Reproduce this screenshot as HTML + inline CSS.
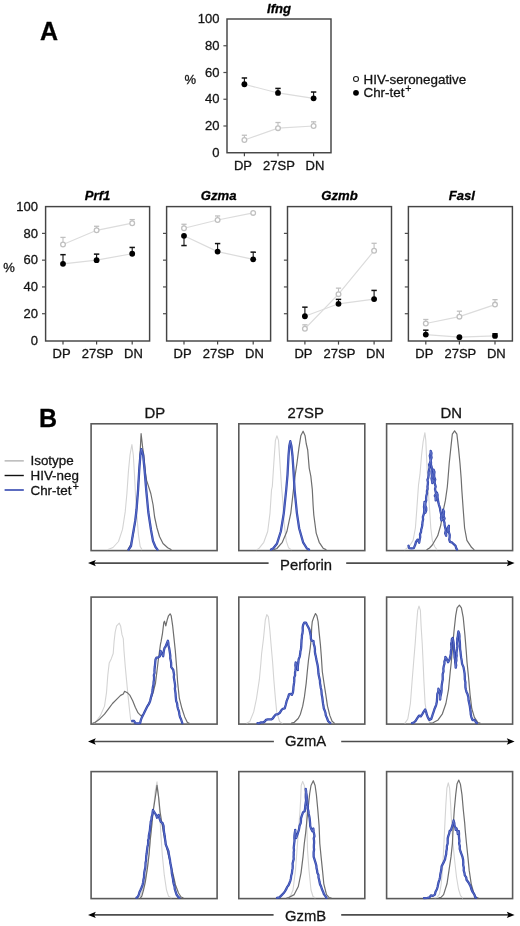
<!DOCTYPE html>
<html><head><meta charset="utf-8"><style>
html,body{margin:0;padding:0;background:#fff;}
svg{display:block;font-family:"Liberation Sans", sans-serif;will-change:transform;filter:blur(0.3px);}
</style></head><body>
<svg width="520" height="926" viewBox="0 0 520 926">
<text x="40" y="39.7" font-size="25" text-anchor="start" font-weight="bold" font-style="normal" fill="#000" stroke="#000" stroke-width="0.3" >A</text>
<rect x="227" y="19" width="104" height="133.75" fill="none" stroke="#444" stroke-width="1.45"/>
<text x="219.4" y="156.95" font-size="13.0" text-anchor="end" font-weight="normal" font-style="normal" fill="#141414" stroke="#141414" stroke-width="0.3" >0</text>
<line x1="223.4" y1="126.00" x2="227" y2="126.00" stroke="#4d4d4d" stroke-width="1.2"/>
<text x="219.4" y="130.20" font-size="13.0" text-anchor="end" font-weight="normal" font-style="normal" fill="#141414" stroke="#141414" stroke-width="0.3" >20</text>
<line x1="223.4" y1="99.25" x2="227" y2="99.25" stroke="#4d4d4d" stroke-width="1.2"/>
<text x="219.4" y="103.45" font-size="13.0" text-anchor="end" font-weight="normal" font-style="normal" fill="#141414" stroke="#141414" stroke-width="0.3" >40</text>
<line x1="223.4" y1="72.50" x2="227" y2="72.50" stroke="#4d4d4d" stroke-width="1.2"/>
<text x="219.4" y="76.70" font-size="13.0" text-anchor="end" font-weight="normal" font-style="normal" fill="#141414" stroke="#141414" stroke-width="0.3" >60</text>
<line x1="223.4" y1="45.75" x2="227" y2="45.75" stroke="#4d4d4d" stroke-width="1.2"/>
<text x="219.4" y="49.95" font-size="13.0" text-anchor="end" font-weight="normal" font-style="normal" fill="#141414" stroke="#141414" stroke-width="0.3" >80</text>
<text x="219.4" y="23.20" font-size="13.0" text-anchor="end" font-weight="normal" font-style="normal" fill="#141414" stroke="#141414" stroke-width="0.3" >100</text>
<line x1="244.40" y1="152.75" x2="244.40" y2="156.35" stroke="#444" stroke-width="1.2"/>
<text x="243.00" y="170.15" font-size="13.0" text-anchor="middle" font-weight="normal" font-style="normal" fill="#141414" stroke="#141414" stroke-width="0.3" >DP</text>
<line x1="278.00" y1="152.75" x2="278.00" y2="156.35" stroke="#444" stroke-width="1.2"/>
<text x="279.00" y="170.15" font-size="13.0" text-anchor="middle" font-weight="normal" font-style="normal" fill="#141414" stroke="#141414" stroke-width="0.3" >27SP</text>
<line x1="313.60" y1="152.75" x2="313.60" y2="156.35" stroke="#444" stroke-width="1.2"/>
<text x="314.90" y="170.15" font-size="13.0" text-anchor="middle" font-weight="normal" font-style="normal" fill="#141414" stroke="#141414" stroke-width="0.3" >DN</text>
<text x="184.6" y="84.47" font-size="13.0" text-anchor="start" font-weight="normal" font-style="normal" fill="#141414" stroke="#141414" stroke-width="0.3" >%</text>
<text x="279.00" y="12.60" font-size="13.1" text-anchor="middle" font-weight="bold" font-style="italic" fill="#000" stroke="#000" stroke-width="0.3" >Ifng</text>
<polyline points="244.40,140.04 278.00,128.14 313.60,126.00" fill="none" stroke="#dcdcdc" stroke-width="1.2"/>
<polyline points="244.40,84.27 278.00,92.96 313.60,98.31" fill="none" stroke="#dcdcdc" stroke-width="1.2"/>
<line x1="244.40" y1="140.04" x2="244.40" y2="135.23" stroke="#c0c0c0" stroke-width="1.1"/>
<line x1="241.80" y1="135.23" x2="247.00" y2="135.23" stroke="#c0c0c0" stroke-width="1.3"/>
<circle cx="244.40" cy="140.04" r="2.35" fill="#fff" stroke="#c0c0c0" stroke-width="1.3"/>
<line x1="278.00" y1="128.14" x2="278.00" y2="122.52" stroke="#c0c0c0" stroke-width="1.1"/>
<line x1="275.40" y1="122.52" x2="280.60" y2="122.52" stroke="#c0c0c0" stroke-width="1.3"/>
<circle cx="278.00" cy="128.14" r="2.35" fill="#fff" stroke="#c0c0c0" stroke-width="1.3"/>
<line x1="313.60" y1="126.00" x2="313.60" y2="121.85" stroke="#c0c0c0" stroke-width="1.1"/>
<line x1="311.00" y1="121.85" x2="316.20" y2="121.85" stroke="#c0c0c0" stroke-width="1.3"/>
<circle cx="313.60" cy="126.00" r="2.35" fill="#fff" stroke="#c0c0c0" stroke-width="1.3"/>
<line x1="244.40" y1="84.27" x2="244.40" y2="77.98" stroke="#111" stroke-width="1.1"/>
<line x1="241.70" y1="77.98" x2="247.10" y2="77.98" stroke="#111" stroke-width="1.5"/>
<circle cx="244.40" cy="84.27" r="2.9" fill="#000"/>
<line x1="278.00" y1="92.96" x2="278.00" y2="88.42" stroke="#111" stroke-width="1.1"/>
<line x1="275.30" y1="88.42" x2="280.70" y2="88.42" stroke="#111" stroke-width="1.5"/>
<circle cx="278.00" cy="92.96" r="2.9" fill="#000"/>
<line x1="313.60" y1="98.31" x2="313.60" y2="92.03" stroke="#111" stroke-width="1.1"/>
<line x1="310.90" y1="92.03" x2="316.30" y2="92.03" stroke="#111" stroke-width="1.5"/>
<circle cx="313.60" cy="98.31" r="2.9" fill="#000"/>
<circle cx="356" cy="79" r="2.5" fill="#fff" stroke="#222" stroke-width="1.1"/>
<circle cx="356" cy="92.8" r="2.9" fill="#000"/>
<text x="363.5" y="83.6" font-size="13.4" text-anchor="start" font-weight="normal" font-style="normal" fill="#141414" stroke="#141414" stroke-width="0.3" >HIV-seronegative</text>
<text x="363.5" y="97.1" font-size="13.4" text-anchor="start" font-weight="normal" font-style="normal" fill="#141414" stroke="#141414" stroke-width="0.3" >Chr-tet<tspan dx="0.8" dy="-5.2" font-size="10.5">+</tspan></text>
<rect x="45.6" y="206.6" width="104" height="134.4" fill="none" stroke="#444" stroke-width="1.45"/>
<text x="38.0" y="344.70" font-size="13.0" text-anchor="end" font-weight="normal" font-style="normal" fill="#141414" stroke="#141414" stroke-width="0.3" >0</text>
<line x1="42.0" y1="313.72" x2="45.6" y2="313.72" stroke="#4d4d4d" stroke-width="1.2"/>
<text x="38.0" y="317.92" font-size="13.0" text-anchor="end" font-weight="normal" font-style="normal" fill="#141414" stroke="#141414" stroke-width="0.3" >20</text>
<line x1="42.0" y1="286.94" x2="45.6" y2="286.94" stroke="#4d4d4d" stroke-width="1.2"/>
<text x="38.0" y="291.14" font-size="13.0" text-anchor="end" font-weight="normal" font-style="normal" fill="#141414" stroke="#141414" stroke-width="0.3" >40</text>
<line x1="42.0" y1="260.16" x2="45.6" y2="260.16" stroke="#4d4d4d" stroke-width="1.2"/>
<text x="38.0" y="264.36" font-size="13.0" text-anchor="end" font-weight="normal" font-style="normal" fill="#141414" stroke="#141414" stroke-width="0.3" >60</text>
<line x1="42.0" y1="233.38" x2="45.6" y2="233.38" stroke="#4d4d4d" stroke-width="1.2"/>
<text x="38.0" y="237.58" font-size="13.0" text-anchor="end" font-weight="normal" font-style="normal" fill="#141414" stroke="#141414" stroke-width="0.3" >80</text>
<text x="38.0" y="210.80" font-size="13.0" text-anchor="end" font-weight="normal" font-style="normal" fill="#141414" stroke="#141414" stroke-width="0.3" >100</text>
<line x1="63.00" y1="341.0" x2="63.00" y2="344.6" stroke="#444" stroke-width="1.2"/>
<text x="61.60" y="357.90" font-size="13.0" text-anchor="middle" font-weight="normal" font-style="normal" fill="#141414" stroke="#141414" stroke-width="0.3" >DP</text>
<line x1="96.60" y1="341.0" x2="96.60" y2="344.6" stroke="#444" stroke-width="1.2"/>
<text x="97.60" y="357.90" font-size="13.0" text-anchor="middle" font-weight="normal" font-style="normal" fill="#141414" stroke="#141414" stroke-width="0.3" >27SP</text>
<line x1="132.20" y1="341.0" x2="132.20" y2="344.6" stroke="#444" stroke-width="1.2"/>
<text x="133.50" y="357.90" font-size="13.0" text-anchor="middle" font-weight="normal" font-style="normal" fill="#141414" stroke="#141414" stroke-width="0.3" >DN</text>
<text x="3.200000000000003" y="272.15" font-size="13.0" text-anchor="start" font-weight="normal" font-style="normal" fill="#141414" stroke="#141414" stroke-width="0.3" >%</text>
<text x="97.60" y="200.20" font-size="13.1" text-anchor="middle" font-weight="bold" font-style="italic" fill="#000" stroke="#000" stroke-width="0.3" >Prf1</text>
<polyline points="63.00,244.49 96.60,230.30 132.20,223.20" fill="none" stroke="#dcdcdc" stroke-width="1.2"/>
<polyline points="63.00,263.78 96.60,260.16 132.20,253.73" fill="none" stroke="#dcdcdc" stroke-width="1.2"/>
<line x1="63.00" y1="244.49" x2="63.00" y2="237.40" stroke="#c0c0c0" stroke-width="1.1"/>
<line x1="60.40" y1="237.40" x2="65.60" y2="237.40" stroke="#c0c0c0" stroke-width="1.3"/>
<circle cx="63.00" cy="244.49" r="2.35" fill="#fff" stroke="#c0c0c0" stroke-width="1.3"/>
<line x1="96.60" y1="230.30" x2="96.60" y2="226.28" stroke="#c0c0c0" stroke-width="1.1"/>
<line x1="94.00" y1="226.28" x2="99.20" y2="226.28" stroke="#c0c0c0" stroke-width="1.3"/>
<circle cx="96.60" cy="230.30" r="2.35" fill="#fff" stroke="#c0c0c0" stroke-width="1.3"/>
<line x1="132.20" y1="223.20" x2="132.20" y2="219.59" stroke="#c0c0c0" stroke-width="1.1"/>
<line x1="129.60" y1="219.59" x2="134.80" y2="219.59" stroke="#c0c0c0" stroke-width="1.3"/>
<circle cx="132.20" cy="223.20" r="2.35" fill="#fff" stroke="#c0c0c0" stroke-width="1.3"/>
<line x1="63.00" y1="263.78" x2="63.00" y2="254.67" stroke="#111" stroke-width="1.1"/>
<line x1="60.30" y1="254.67" x2="65.70" y2="254.67" stroke="#111" stroke-width="1.5"/>
<circle cx="63.00" cy="263.78" r="2.9" fill="#000"/>
<line x1="96.60" y1="260.16" x2="96.60" y2="254.13" stroke="#111" stroke-width="1.1"/>
<line x1="93.90" y1="254.13" x2="99.30" y2="254.13" stroke="#111" stroke-width="1.5"/>
<circle cx="96.60" cy="260.16" r="2.9" fill="#000"/>
<line x1="132.20" y1="253.73" x2="132.20" y2="247.44" stroke="#111" stroke-width="1.1"/>
<line x1="129.50" y1="247.44" x2="134.90" y2="247.44" stroke="#111" stroke-width="1.5"/>
<circle cx="132.20" cy="253.73" r="2.9" fill="#000"/>
<rect x="166.6" y="206.6" width="104" height="134.4" fill="none" stroke="#444" stroke-width="1.45"/>
<line x1="163.0" y1="313.72" x2="166.6" y2="313.72" stroke="#4d4d4d" stroke-width="1.2"/>
<line x1="163.0" y1="286.94" x2="166.6" y2="286.94" stroke="#4d4d4d" stroke-width="1.2"/>
<line x1="163.0" y1="260.16" x2="166.6" y2="260.16" stroke="#4d4d4d" stroke-width="1.2"/>
<line x1="163.0" y1="233.38" x2="166.6" y2="233.38" stroke="#4d4d4d" stroke-width="1.2"/>
<line x1="184.00" y1="341.0" x2="184.00" y2="344.6" stroke="#444" stroke-width="1.2"/>
<text x="182.60" y="357.90" font-size="13.0" text-anchor="middle" font-weight="normal" font-style="normal" fill="#141414" stroke="#141414" stroke-width="0.3" >DP</text>
<line x1="217.60" y1="341.0" x2="217.60" y2="344.6" stroke="#444" stroke-width="1.2"/>
<text x="218.60" y="357.90" font-size="13.0" text-anchor="middle" font-weight="normal" font-style="normal" fill="#141414" stroke="#141414" stroke-width="0.3" >27SP</text>
<line x1="253.20" y1="341.0" x2="253.20" y2="344.6" stroke="#444" stroke-width="1.2"/>
<text x="254.50" y="357.90" font-size="13.0" text-anchor="middle" font-weight="normal" font-style="normal" fill="#141414" stroke="#141414" stroke-width="0.3" >DN</text>
<text x="218.60" y="200.20" font-size="13.1" text-anchor="middle" font-weight="bold" font-style="italic" fill="#000" stroke="#000" stroke-width="0.3" >Gzma</text>
<polyline points="184.00,228.29 217.60,219.99 253.20,212.89" fill="none" stroke="#dcdcdc" stroke-width="1.2"/>
<polyline points="184.00,235.79 217.60,251.59 253.20,259.36" fill="none" stroke="#dcdcdc" stroke-width="1.2"/>
<line x1="184.00" y1="228.29" x2="184.00" y2="224.27" stroke="#c0c0c0" stroke-width="1.1"/>
<line x1="181.40" y1="224.27" x2="186.60" y2="224.27" stroke="#c0c0c0" stroke-width="1.3"/>
<circle cx="184.00" cy="228.29" r="2.35" fill="#fff" stroke="#c0c0c0" stroke-width="1.3"/>
<line x1="217.60" y1="219.99" x2="217.60" y2="215.97" stroke="#c0c0c0" stroke-width="1.1"/>
<line x1="215.00" y1="215.97" x2="220.20" y2="215.97" stroke="#c0c0c0" stroke-width="1.3"/>
<circle cx="217.60" cy="219.99" r="2.35" fill="#fff" stroke="#c0c0c0" stroke-width="1.3"/>
<circle cx="253.20" cy="212.89" r="2.35" fill="#fff" stroke="#c0c0c0" stroke-width="1.3"/>
<line x1="184.00" y1="235.79" x2="184.00" y2="245.56" stroke="#111" stroke-width="1.1"/>
<line x1="181.30" y1="245.56" x2="186.70" y2="245.56" stroke="#111" stroke-width="1.5"/>
<circle cx="184.00" cy="235.79" r="2.9" fill="#000"/>
<line x1="217.60" y1="251.59" x2="217.60" y2="243.56" stroke="#111" stroke-width="1.1"/>
<line x1="214.90" y1="243.56" x2="220.30" y2="243.56" stroke="#111" stroke-width="1.5"/>
<circle cx="217.60" cy="251.59" r="2.9" fill="#000"/>
<line x1="253.20" y1="259.36" x2="253.20" y2="252.13" stroke="#111" stroke-width="1.1"/>
<line x1="250.50" y1="252.13" x2="255.90" y2="252.13" stroke="#111" stroke-width="1.5"/>
<circle cx="253.20" cy="259.36" r="2.9" fill="#000"/>
<rect x="287.5" y="206.6" width="104" height="134.4" fill="none" stroke="#444" stroke-width="1.45"/>
<line x1="283.9" y1="313.72" x2="287.5" y2="313.72" stroke="#4d4d4d" stroke-width="1.2"/>
<line x1="283.9" y1="286.94" x2="287.5" y2="286.94" stroke="#4d4d4d" stroke-width="1.2"/>
<line x1="283.9" y1="260.16" x2="287.5" y2="260.16" stroke="#4d4d4d" stroke-width="1.2"/>
<line x1="283.9" y1="233.38" x2="287.5" y2="233.38" stroke="#4d4d4d" stroke-width="1.2"/>
<line x1="304.90" y1="341.0" x2="304.90" y2="344.6" stroke="#444" stroke-width="1.2"/>
<text x="303.50" y="357.90" font-size="13.0" text-anchor="middle" font-weight="normal" font-style="normal" fill="#141414" stroke="#141414" stroke-width="0.3" >DP</text>
<line x1="338.50" y1="341.0" x2="338.50" y2="344.6" stroke="#444" stroke-width="1.2"/>
<text x="339.50" y="357.90" font-size="13.0" text-anchor="middle" font-weight="normal" font-style="normal" fill="#141414" stroke="#141414" stroke-width="0.3" >27SP</text>
<line x1="374.10" y1="341.0" x2="374.10" y2="344.6" stroke="#444" stroke-width="1.2"/>
<text x="375.40" y="357.90" font-size="13.0" text-anchor="middle" font-weight="normal" font-style="normal" fill="#141414" stroke="#141414" stroke-width="0.3" >DN</text>
<text x="339.50" y="200.20" font-size="13.1" text-anchor="middle" font-weight="bold" font-style="italic" fill="#000" stroke="#000" stroke-width="0.3" >Gzmb</text>
<polyline points="304.90,328.72 338.50,294.17 374.10,250.79" fill="none" stroke="#dcdcdc" stroke-width="1.2"/>
<polyline points="304.90,316.26 338.50,303.81 374.10,299.12" fill="none" stroke="#dcdcdc" stroke-width="1.2"/>
<line x1="304.90" y1="328.72" x2="304.90" y2="324.83" stroke="#c0c0c0" stroke-width="1.1"/>
<line x1="302.30" y1="324.83" x2="307.50" y2="324.83" stroke="#c0c0c0" stroke-width="1.3"/>
<circle cx="304.90" cy="328.72" r="2.35" fill="#fff" stroke="#c0c0c0" stroke-width="1.3"/>
<line x1="338.50" y1="294.17" x2="338.50" y2="288.15" stroke="#c0c0c0" stroke-width="1.1"/>
<line x1="335.90" y1="288.15" x2="341.10" y2="288.15" stroke="#c0c0c0" stroke-width="1.3"/>
<circle cx="338.50" cy="294.17" r="2.35" fill="#fff" stroke="#c0c0c0" stroke-width="1.3"/>
<line x1="374.10" y1="250.79" x2="374.10" y2="243.29" stroke="#c0c0c0" stroke-width="1.1"/>
<line x1="371.50" y1="243.29" x2="376.70" y2="243.29" stroke="#c0c0c0" stroke-width="1.3"/>
<circle cx="374.10" cy="250.79" r="2.35" fill="#fff" stroke="#c0c0c0" stroke-width="1.3"/>
<line x1="304.90" y1="316.26" x2="304.90" y2="307.16" stroke="#111" stroke-width="1.1"/>
<line x1="302.20" y1="307.16" x2="307.60" y2="307.16" stroke="#111" stroke-width="1.5"/>
<circle cx="304.90" cy="316.26" r="2.9" fill="#000"/>
<line x1="338.50" y1="303.81" x2="338.50" y2="299.39" stroke="#111" stroke-width="1.1"/>
<line x1="335.80" y1="299.39" x2="341.20" y2="299.39" stroke="#111" stroke-width="1.5"/>
<circle cx="338.50" cy="303.81" r="2.9" fill="#000"/>
<line x1="374.10" y1="299.12" x2="374.10" y2="290.42" stroke="#111" stroke-width="1.1"/>
<line x1="371.40" y1="290.42" x2="376.80" y2="290.42" stroke="#111" stroke-width="1.5"/>
<circle cx="374.10" cy="299.12" r="2.9" fill="#000"/>
<rect x="408.4" y="206.6" width="104" height="134.4" fill="none" stroke="#444" stroke-width="1.45"/>
<line x1="404.79999999999995" y1="313.72" x2="408.4" y2="313.72" stroke="#4d4d4d" stroke-width="1.2"/>
<line x1="404.79999999999995" y1="286.94" x2="408.4" y2="286.94" stroke="#4d4d4d" stroke-width="1.2"/>
<line x1="404.79999999999995" y1="260.16" x2="408.4" y2="260.16" stroke="#4d4d4d" stroke-width="1.2"/>
<line x1="404.79999999999995" y1="233.38" x2="408.4" y2="233.38" stroke="#4d4d4d" stroke-width="1.2"/>
<line x1="425.80" y1="341.0" x2="425.80" y2="344.6" stroke="#444" stroke-width="1.2"/>
<text x="424.40" y="357.90" font-size="13.0" text-anchor="middle" font-weight="normal" font-style="normal" fill="#141414" stroke="#141414" stroke-width="0.3" >DP</text>
<line x1="459.40" y1="341.0" x2="459.40" y2="344.6" stroke="#444" stroke-width="1.2"/>
<text x="460.40" y="357.90" font-size="13.0" text-anchor="middle" font-weight="normal" font-style="normal" fill="#141414" stroke="#141414" stroke-width="0.3" >27SP</text>
<line x1="495.00" y1="341.0" x2="495.00" y2="344.6" stroke="#444" stroke-width="1.2"/>
<text x="496.30" y="357.90" font-size="13.0" text-anchor="middle" font-weight="normal" font-style="normal" fill="#141414" stroke="#141414" stroke-width="0.3" >DN</text>
<text x="461.90" y="200.20" font-size="13.1" text-anchor="middle" font-weight="bold" font-style="italic" fill="#000" stroke="#000" stroke-width="0.3" >Fasl</text>
<polyline points="425.80,323.49 459.40,316.67 495.00,304.61" fill="none" stroke="#dcdcdc" stroke-width="1.2"/>
<polyline points="425.80,334.61 459.40,337.15 495.00,335.95" fill="none" stroke="#dcdcdc" stroke-width="1.2"/>
<line x1="425.80" y1="323.49" x2="425.80" y2="319.48" stroke="#c0c0c0" stroke-width="1.1"/>
<line x1="423.20" y1="319.48" x2="428.40" y2="319.48" stroke="#c0c0c0" stroke-width="1.3"/>
<circle cx="425.80" cy="323.49" r="2.35" fill="#fff" stroke="#c0c0c0" stroke-width="1.3"/>
<line x1="459.40" y1="316.67" x2="459.40" y2="311.18" stroke="#c0c0c0" stroke-width="1.1"/>
<line x1="456.80" y1="311.18" x2="462.00" y2="311.18" stroke="#c0c0c0" stroke-width="1.3"/>
<circle cx="459.40" cy="316.67" r="2.35" fill="#fff" stroke="#c0c0c0" stroke-width="1.3"/>
<line x1="495.00" y1="304.61" x2="495.00" y2="299.66" stroke="#c0c0c0" stroke-width="1.1"/>
<line x1="492.40" y1="299.66" x2="497.60" y2="299.66" stroke="#c0c0c0" stroke-width="1.3"/>
<circle cx="495.00" cy="304.61" r="2.35" fill="#fff" stroke="#c0c0c0" stroke-width="1.3"/>
<line x1="425.80" y1="334.61" x2="425.80" y2="330.19" stroke="#111" stroke-width="1.1"/>
<line x1="423.10" y1="330.19" x2="428.50" y2="330.19" stroke="#111" stroke-width="1.5"/>
<circle cx="425.80" cy="334.61" r="2.9" fill="#000"/>
<circle cx="459.40" cy="337.15" r="2.9" fill="#000"/>
<line x1="495.00" y1="335.95" x2="495.00" y2="333.81" stroke="#111" stroke-width="1.1"/>
<line x1="492.30" y1="333.81" x2="497.70" y2="333.81" stroke="#111" stroke-width="1.5"/>
<circle cx="495.00" cy="335.95" r="2.9" fill="#000"/>
<text x="39" y="426.7" font-size="25" text-anchor="start" font-weight="bold" font-style="normal" fill="#000" stroke="#000" stroke-width="0.3" >B</text>
<text x="154.75" y="417.5" font-size="14.9" text-anchor="middle" font-weight="normal" font-style="normal" fill="#141414" stroke="#141414" stroke-width="0.3" >DP</text>
<text x="305.65" y="417.5" font-size="14.9" text-anchor="middle" font-weight="normal" font-style="normal" fill="#141414" stroke="#141414" stroke-width="0.3" >27SP</text>
<text x="451.3" y="417.5" font-size="14.9" text-anchor="middle" font-weight="normal" font-style="normal" fill="#141414" stroke="#141414" stroke-width="0.3" >DN</text>
<line x1="4.6" y1="460.85" x2="23.8" y2="460.85" stroke="#bdbdbd" stroke-width="1.6"/>
<line x1="4.6" y1="475.5" x2="23.8" y2="475.5" stroke="#111" stroke-width="1.4"/>
<line x1="4.6" y1="490" x2="23.8" y2="490" stroke="#3347b0" stroke-width="1.6"/>
<text x="30.5" y="464.6" font-size="13.4" text-anchor="start" font-weight="normal" font-style="normal" fill="#141414" stroke="#141414" stroke-width="0.3" >Isotype</text>
<text x="30.5" y="479.7" font-size="13.4" text-anchor="start" font-weight="normal" font-style="normal" fill="#141414" stroke="#141414" stroke-width="0.3" >HIV-neg</text>
<text x="30.5" y="494.9" font-size="13.4" text-anchor="start" font-weight="normal" font-style="normal" fill="#141414" stroke="#141414" stroke-width="0.3" >Chr-tet<tspan dx="1.2" dy="-5" font-size="10.5">+</tspan></text>
<rect x="91.1" y="423.8" width="126" height="126.8" fill="none" stroke="#5a5a5a" stroke-width="1.6"/>
<rect x="238.8" y="423.8" width="126" height="126.8" fill="none" stroke="#5a5a5a" stroke-width="1.6"/>
<rect x="386.6" y="423.8" width="126" height="126.8" fill="none" stroke="#5a5a5a" stroke-width="1.6"/>
<rect x="91.1" y="597.1" width="126" height="127.0" fill="none" stroke="#5a5a5a" stroke-width="1.6"/>
<rect x="238.8" y="597.1" width="126" height="127.0" fill="none" stroke="#5a5a5a" stroke-width="1.6"/>
<rect x="386.6" y="597.1" width="126" height="127.0" fill="none" stroke="#5a5a5a" stroke-width="1.6"/>
<rect x="91.1" y="771.6" width="126" height="127.0" fill="none" stroke="#5a5a5a" stroke-width="1.6"/>
<rect x="238.8" y="771.6" width="126" height="127.0" fill="none" stroke="#5a5a5a" stroke-width="1.6"/>
<rect x="386.6" y="771.6" width="126" height="127.0" fill="none" stroke="#5a5a5a" stroke-width="1.6"/>
<line x1="92" y1="563.1" x2="268.6" y2="563.1" stroke="#4d4d4d" stroke-width="1.6"/>
<line x1="346.2" y1="563.1" x2="510" y2="563.1" stroke="#4d4d4d" stroke-width="1.6"/>
<path d="M88 563.1 L95.8 559.9 L94.2 563.1 L95.8 566.3000000000001 Z" fill="#000"/>
<path d="M514.6 563.1 L506.8 559.9 L508.4 563.1 L506.8 566.3000000000001 Z" fill="#000"/>
<text x="306" y="569.6" font-size="14.8" text-anchor="middle" font-weight="normal" font-style="normal" fill="#141414" stroke="#141414" stroke-width="0.3" >Perforin</text>
<line x1="92" y1="741.5" x2="273.9" y2="741.5" stroke="#4d4d4d" stroke-width="1.6"/>
<line x1="341.2" y1="741.5" x2="510" y2="741.5" stroke="#4d4d4d" stroke-width="1.6"/>
<path d="M88 741.5 L95.8 738.3 L94.2 741.5 L95.8 744.7 Z" fill="#000"/>
<path d="M514.6 741.5 L506.8 738.3 L508.4 741.5 L506.8 744.7 Z" fill="#000"/>
<text x="305.6" y="746.2" font-size="14.8" text-anchor="middle" font-weight="normal" font-style="normal" fill="#141414" stroke="#141414" stroke-width="0.3" >GzmA</text>
<line x1="92" y1="914.9" x2="273.6" y2="914.9" stroke="#4d4d4d" stroke-width="1.6"/>
<line x1="341.2" y1="914.9" x2="510" y2="914.9" stroke="#4d4d4d" stroke-width="1.6"/>
<path d="M88 914.9 L95.8 911.6999999999999 L94.2 914.9 L95.8 918.1 Z" fill="#000"/>
<path d="M514.6 914.9 L506.8 911.6999999999999 L508.4 914.9 L506.8 918.1 Z" fill="#000"/>
<text x="305.6" y="920.8" font-size="14.8" text-anchor="middle" font-weight="normal" font-style="normal" fill="#141414" stroke="#141414" stroke-width="0.3" >GzmB</text>
<path d="M108.00,549.60 L113.00,547.50 L118.50,541.50 L122.50,529.40 L125.20,511.90 L126.90,493.50 L128.50,470.40 L130.00,455.00 L131.90,444.50 L133.30,455.00 L134.50,475.00 L135.50,495.00 L136.80,515.00 L138.50,535.00 L140.20,546.50 L142.00,549.60" fill="none" stroke="#d4d4d4" stroke-width="1.1" stroke-linejoin="round" stroke-linecap="round" opacity="1"/>
<path d="M128.00,549.60 L131.00,544.00 L133.50,533.00 L136.00,516.00 L137.80,492.00 L139.30,468.00 L140.40,447.00 L141.10,433.70 L142.70,447.90 L143.80,455.00 L145.40,472.10 L146.60,480.40 L150.80,493.50 L153.10,505.00 L154.60,517.00 L157.00,528.00 L159.50,536.50 L163.00,543.50 L167.70,547.70 L171.00,549.60" fill="none" stroke="#6e6e6e" stroke-width="1.2" stroke-linejoin="round" stroke-linecap="round" opacity="1"/>
<path d="M128.60,549.60 L131.00,546.00 L133.00,533.80 L135.20,521.00 L136.50,510.00 L138.10,489.60 L139.20,470.40 L140.40,455.00 L141.30,449.20 L143.10,455.00 L144.60,470.40 L146.20,489.60 L148.30,512.00 L149.50,520.00 L151.00,530.00 L153.00,541.00 L155.50,547.00 L157.50,549.60" fill="none" stroke="#3045ad" stroke-width="2.3" stroke-linejoin="round" stroke-linecap="round" opacity="1"/>
<path d="M128.60,549.60 L131.00,546.00 L133.00,533.80 L135.20,521.00 L136.50,510.00 L138.10,489.60 L139.20,470.40 L140.40,455.00 L141.30,449.20 L143.10,455.00 L144.60,470.40 L146.20,489.60 L148.30,512.00 L149.50,520.00 L151.00,530.00 L153.00,541.00 L155.50,547.00 L157.50,549.60" fill="none" stroke="#8e9ee0" stroke-width="0.55" stroke-linejoin="round" stroke-linecap="round" opacity="0.8"/>
<path d="M257.00,549.60 L259.20,548.20 L263.80,542.30 L267.70,531.50 L270.00,513.10 L271.50,490.00 L272.30,486.50 L273.80,463.50 L275.40,440.40 L276.90,435.80 L278.50,440.40 L280.00,463.50 L281.50,486.50 L283.10,505.00 L284.00,522.00 L286.20,540.80 L288.50,547.70 L291.00,549.60" fill="none" stroke="#d4d4d4" stroke-width="1.1" stroke-linejoin="round" stroke-linecap="round" opacity="1"/>
<path d="M274.00,549.60 L276.90,548.50 L282.30,542.30 L286.90,531.50 L290.80,513.10 L293.20,492.00 L295.20,475.00 L296.90,463.50 L298.90,448.10 L300.80,435.80 L303.10,431.20 L305.10,435.80 L306.20,443.50 L307.70,450.00 L309.20,468.10 L310.80,476.00 L312.30,489.60 L313.10,505.00 L313.80,515.00 L316.20,533.10 L319.20,542.30 L323.10,548.20 L326.00,549.60" fill="none" stroke="#6e6e6e" stroke-width="1.2" stroke-linejoin="round" stroke-linecap="round" opacity="1"/>
<path d="M271.00,549.60 L273.10,548.50 L276.90,543.80 L280.80,531.50 L283.80,513.10 L286.20,490.00 L287.50,475.00 L288.50,456.00 L289.30,446.00 L290.30,441.20 L291.40,446.00 L292.50,456.00 L293.50,471.20 L294.60,490.00 L296.90,513.10 L299.20,528.50 L303.10,542.30 L306.90,548.50 L309.00,549.60" fill="none" stroke="#3045ad" stroke-width="2.3" stroke-linejoin="round" stroke-linecap="round" opacity="1"/>
<path d="M271.00,549.60 L273.10,548.50 L276.90,543.80 L280.80,531.50 L283.80,513.10 L286.20,490.00 L287.50,475.00 L288.50,456.00 L289.30,446.00 L290.30,441.20 L291.40,446.00 L292.50,456.00 L293.50,471.20 L294.60,490.00 L296.90,513.10 L299.20,528.50 L303.10,542.30 L306.90,548.50 L309.00,549.60" fill="none" stroke="#8e9ee0" stroke-width="0.55" stroke-linejoin="round" stroke-linecap="round" opacity="0.8"/>
<path d="M405.00,549.60 L409.20,546.50 L413.10,540.40 L415.40,528.00 L416.90,508.00 L418.50,485.00 L420.00,474.20 L421.50,455.80 L423.10,441.90 L424.90,432.70 L425.80,440.40 L426.50,455.80 L427.40,474.20 L428.20,489.00 L429.50,508.00 L430.80,528.00 L432.30,540.40 L434.60,546.50 L437.00,549.60" fill="none" stroke="#d4d4d4" stroke-width="1.1" stroke-linejoin="round" stroke-linecap="round" opacity="1"/>
<path d="M427.00,549.60 L429.50,548.00 L432.30,545.00 L437.70,535.80 L440.80,525.00 L443.10,511.20 L445.40,500.40 L447.30,487.00 L448.00,478.80 L449.20,463.50 L450.80,448.10 L452.30,434.20 L454.60,430.80 L456.90,434.20 L458.50,448.10 L460.00,463.50 L461.20,478.80 L461.80,489.60 L463.10,508.00 L464.60,528.00 L466.90,540.40 L471.50,547.30 L474.00,549.60" fill="none" stroke="#6e6e6e" stroke-width="1.2" stroke-linejoin="round" stroke-linecap="round" opacity="1"/>
<path d="M408.50,545.80 L409.20,548.10 L411.50,548.35 L413.80,548.10 L415.40,544.20 L416.04,541.64 L417.70,539.60 L419.20,542.70 L419.63,539.88 L420.21,537.08 L420.00,534.20 L421.03,532.01 L421.17,529.61 L421.90,527.34 L422.30,525.00 L422.49,522.27 L423.09,519.61 L422.88,516.82 L423.80,514.20 L424.22,511.76 L424.26,509.29 L423.98,506.80 L424.27,504.35 L424.60,501.90 L424.47,504.62 L425.08,507.29 L424.56,510.05 L425.40,512.70 L426.22,510.28 L426.19,507.81 L425.31,505.28 L425.45,502.82 L426.20,500.40 L426.08,498.03 L426.36,495.69 L427.01,493.37 L426.90,491.00 L427.59,488.83 L427.45,486.58 L427.79,484.37 L427.94,482.14 L427.42,479.85 L428.30,477.70 L428.66,475.00 L428.55,472.25 L429.16,469.59 L429.60,466.90 L429.06,464.63 L430.12,462.46 L430.62,460.26 L430.20,458.00 L429.76,455.56 L430.65,453.21 L430.70,450.80 L431.49,453.06 L431.16,455.39 L431.56,457.67 L430.71,460.03 L431.02,462.32 L430.92,464.63 L431.60,466.90 L432.09,469.20 L431.49,471.54 L431.62,473.85 L431.99,476.16 L431.52,478.50 L432.03,480.79 L432.30,483.10 L432.21,480.82 L433.04,478.63 L432.92,476.35 L432.77,474.06 L433.55,471.87 L433.60,469.60 L434.46,472.01 L434.14,474.53 L434.22,477.01 L435.23,479.40 L434.56,481.95 L435.00,484.40 L435.68,486.66 L434.99,488.98 L435.52,491.25 L436.06,493.51 L434.80,495.86 L436.21,498.09 L435.70,500.40 L435.62,497.76 L436.51,495.27 L436.90,492.70 L437.58,494.95 L437.51,497.31 L437.91,499.59 L438.20,501.90 L439.00,505.03 L440.00,508.10 L440.24,510.57 L440.89,512.99 L441.30,515.43 L440.93,517.97 L441.50,520.40 L441.80,517.69 L442.33,515.00 L443.28,512.39 L443.10,509.60 L444.00,511.73 L443.84,513.97 L443.65,516.21 L444.58,518.34 L443.82,520.63 L444.52,522.79 L444.60,525.00 L445.25,527.66 L445.82,530.34 L445.15,533.20 L446.20,535.80 L446.08,533.11 L447.64,530.75 L447.70,528.10 L448.90,525.80 L448.77,528.12 L448.66,530.44 L449.09,532.72 L449.74,534.99 L449.62,537.30 L449.25,539.64 L450.00,541.90 L452.30,542.70 L453.80,544.20 L455.55,545.81 L456.20,548.10 L457.00,549.60" fill="none" stroke="#3045ad" stroke-width="2.3" stroke-linejoin="round" stroke-linecap="round" opacity="1"/>
<path d="M408.50,545.80 L409.20,548.10 L411.50,548.35 L413.80,548.10 L415.40,544.20 L416.04,541.64 L417.70,539.60 L419.20,542.70 L419.63,539.88 L420.21,537.08 L420.00,534.20 L421.03,532.01 L421.17,529.61 L421.90,527.34 L422.30,525.00 L422.49,522.27 L423.09,519.61 L422.88,516.82 L423.80,514.20 L424.22,511.76 L424.26,509.29 L423.98,506.80 L424.27,504.35 L424.60,501.90 L424.47,504.62 L425.08,507.29 L424.56,510.05 L425.40,512.70 L426.22,510.28 L426.19,507.81 L425.31,505.28 L425.45,502.82 L426.20,500.40 L426.08,498.03 L426.36,495.69 L427.01,493.37 L426.90,491.00 L427.59,488.83 L427.45,486.58 L427.79,484.37 L427.94,482.14 L427.42,479.85 L428.30,477.70 L428.66,475.00 L428.55,472.25 L429.16,469.59 L429.60,466.90 L429.06,464.63 L430.12,462.46 L430.62,460.26 L430.20,458.00 L429.76,455.56 L430.65,453.21 L430.70,450.80 L431.49,453.06 L431.16,455.39 L431.56,457.67 L430.71,460.03 L431.02,462.32 L430.92,464.63 L431.60,466.90 L432.09,469.20 L431.49,471.54 L431.62,473.85 L431.99,476.16 L431.52,478.50 L432.03,480.79 L432.30,483.10 L432.21,480.82 L433.04,478.63 L432.92,476.35 L432.77,474.06 L433.55,471.87 L433.60,469.60 L434.46,472.01 L434.14,474.53 L434.22,477.01 L435.23,479.40 L434.56,481.95 L435.00,484.40 L435.68,486.66 L434.99,488.98 L435.52,491.25 L436.06,493.51 L434.80,495.86 L436.21,498.09 L435.70,500.40 L435.62,497.76 L436.51,495.27 L436.90,492.70 L437.58,494.95 L437.51,497.31 L437.91,499.59 L438.20,501.90 L439.00,505.03 L440.00,508.10 L440.24,510.57 L440.89,512.99 L441.30,515.43 L440.93,517.97 L441.50,520.40 L441.80,517.69 L442.33,515.00 L443.28,512.39 L443.10,509.60 L444.00,511.73 L443.84,513.97 L443.65,516.21 L444.58,518.34 L443.82,520.63 L444.52,522.79 L444.60,525.00 L445.25,527.66 L445.82,530.34 L445.15,533.20 L446.20,535.80 L446.08,533.11 L447.64,530.75 L447.70,528.10 L448.90,525.80 L448.77,528.12 L448.66,530.44 L449.09,532.72 L449.74,534.99 L449.62,537.30 L449.25,539.64 L450.00,541.90 L452.30,542.70 L453.80,544.20 L455.55,545.81 L456.20,548.10 L457.00,549.60" fill="none" stroke="#8e9ee0" stroke-width="0.55" stroke-linejoin="round" stroke-linecap="round" opacity="0.8"/>
<path d="M94.00,723.10 L96.40,721.00 L100.40,715.60 L104.50,706.10 L106.50,692.70 L107.80,675.20 L109.20,663.10 L111.20,658.90 L113.20,653.50 L114.10,641.40 L115.20,632.00 L116.60,625.90 L119.30,623.20 L120.60,625.90 L122.00,634.70 L123.30,638.70 L124.00,650.80 L125.30,667.00 L126.70,681.90 L128.00,695.40 L129.40,708.80 L130.70,719.60 L132.00,723.10" fill="none" stroke="#d4d4d4" stroke-width="1.1" stroke-linejoin="round" stroke-linecap="round" opacity="1"/>
<path d="M93.00,723.10 L95.00,722.50 L99.10,719.60 L104.50,714.20 L108.50,708.80 L112.50,703.50 L116.60,699.40 L120.60,695.40 L123.30,694.00 L124.60,691.30 L127.30,692.70 L130.00,695.40 L132.70,700.80 L135.40,707.50 L138.10,712.90 L140.80,715.60 L142.80,715.20 L146.00,709.00 L150.00,701.00 L153.00,693.00 L155.50,683.00 L157.10,670.00 L158.30,660.00 L160.50,644.10 L161.10,641.40 L162.50,633.30 L163.80,622.60 L164.50,621.20 L165.80,625.90 L167.20,619.90 L168.50,615.80 L170.10,613.80 L171.20,615.80 L172.60,625.30 L173.90,637.40 L175.30,650.80 L176.60,667.00 L177.60,682.00 L179.30,698.10 L182.00,708.80 L184.70,716.90 L187.40,722.50 L189.00,723.10" fill="none" stroke="#6e6e6e" stroke-width="1.2" stroke-linejoin="round" stroke-linecap="round" opacity="1"/>
<path d="M132.20,721.00 L134.10,721.00 L135.40,723.10 L137.75,723.35 L140.10,723.10 L140.89,719.93 L142.10,716.90 L143.48,714.22 L144.80,711.50 L146.14,708.80 L147.50,706.10 L149.10,703.58 L150.20,700.80 L150.80,698.08 L151.50,695.39 L152.20,692.70 L152.60,690.01 L152.83,687.29 L153.50,684.63 L153.60,681.90 L153.99,679.68 L154.07,677.44 L153.83,675.18 L154.56,672.99 L154.46,670.74 L154.60,668.50 L154.88,666.26 L155.08,664.00 L155.28,661.75 L155.50,659.50 L156.40,657.70 L157.80,657.60 L159.80,656.20 L160.41,653.53 L160.50,650.80 L161.80,653.50 L163.20,656.20 L163.50,653.48 L163.85,650.77 L164.50,648.10 L165.77,646.23 L166.50,644.10 L167.90,640.70 L168.34,643.08 L168.50,645.50 L169.18,648.12 L169.60,650.80 L169.99,653.40 L170.30,656.00 L170.24,658.24 L170.73,660.43 L171.13,662.64 L171.16,664.87 L171.20,667.10 L173.20,669.80 L173.64,672.20 L174.05,674.61 L173.81,677.09 L174.18,679.50 L174.60,681.90 L175.00,684.20 L175.13,686.52 L174.87,688.87 L175.22,691.17 L175.56,693.47 L175.67,695.79 L175.90,698.10 L176.14,700.83 L177.10,703.42 L177.40,706.14 L178.00,708.80 L178.95,711.43 L179.34,714.20 L180.00,716.90 L180.92,718.91 L181.62,721.00 L182.30,723.10" fill="none" stroke="#3045ad" stroke-width="2.3" stroke-linejoin="round" stroke-linecap="round" opacity="1"/>
<path d="M132.20,721.00 L134.10,721.00 L135.40,723.10 L137.75,723.35 L140.10,723.10 L140.89,719.93 L142.10,716.90 L143.48,714.22 L144.80,711.50 L146.14,708.80 L147.50,706.10 L149.10,703.58 L150.20,700.80 L150.80,698.08 L151.50,695.39 L152.20,692.70 L152.60,690.01 L152.83,687.29 L153.50,684.63 L153.60,681.90 L153.99,679.68 L154.07,677.44 L153.83,675.18 L154.56,672.99 L154.46,670.74 L154.60,668.50 L154.88,666.26 L155.08,664.00 L155.28,661.75 L155.50,659.50 L156.40,657.70 L157.80,657.60 L159.80,656.20 L160.41,653.53 L160.50,650.80 L161.80,653.50 L163.20,656.20 L163.50,653.48 L163.85,650.77 L164.50,648.10 L165.77,646.23 L166.50,644.10 L167.90,640.70 L168.34,643.08 L168.50,645.50 L169.18,648.12 L169.60,650.80 L169.99,653.40 L170.30,656.00 L170.24,658.24 L170.73,660.43 L171.13,662.64 L171.16,664.87 L171.20,667.10 L173.20,669.80 L173.64,672.20 L174.05,674.61 L173.81,677.09 L174.18,679.50 L174.60,681.90 L175.00,684.20 L175.13,686.52 L174.87,688.87 L175.22,691.17 L175.56,693.47 L175.67,695.79 L175.90,698.10 L176.14,700.83 L177.10,703.42 L177.40,706.14 L178.00,708.80 L178.95,711.43 L179.34,714.20 L180.00,716.90 L180.92,718.91 L181.62,721.00 L182.30,723.10" fill="none" stroke="#8e9ee0" stroke-width="0.55" stroke-linejoin="round" stroke-linecap="round" opacity="0.8"/>
<path d="M247.00,723.10 L249.80,721.50 L253.70,711.90 L256.50,698.50 L259.40,679.20 L260.80,664.00 L261.60,653.80 L263.50,638.50 L265.30,620.00 L266.80,614.60 L268.40,616.90 L269.90,630.80 L271.20,646.20 L272.60,662.00 L273.80,679.20 L275.40,698.50 L276.70,711.90 L279.60,721.50 L282.00,723.10" fill="none" stroke="#d4d4d4" stroke-width="1.1" stroke-linejoin="round" stroke-linecap="round" opacity="1"/>
<path d="M291.50,723.10 L294.30,722.30 L298.20,718.50 L300.40,714.20 L302.70,706.20 L304.40,696.90 L306.20,683.10 L307.30,671.50 L308.50,660.00 L310.20,648.10 L311.20,638.80 L311.70,627.30 L312.30,621.50 L313.50,618.10 L315.50,613.50 L316.90,615.80 L318.10,621.50 L319.20,633.10 L320.40,644.60 L321.30,656.00 L322.30,671.50 L324.00,683.10 L325.80,694.60 L327.50,706.20 L329.80,715.40 L332.10,721.20 L334.40,723.10" fill="none" stroke="#6e6e6e" stroke-width="1.2" stroke-linejoin="round" stroke-linecap="round" opacity="1"/>
<path d="M257.50,723.10 L259.20,723.30 L261.10,722.30 L263.50,722.30 L265.00,721.30 L265.90,719.90 L267.90,719.40 L271.20,719.40 L272.70,718.50 L274.10,716.50 L275.60,714.60 L278.00,714.10 L279.90,712.70 L281.30,710.30 L282.80,708.80 L284.70,708.40 L285.70,705.00 L286.60,701.20 L288.10,697.30 L289.00,694.40 L290.50,693.90 L291.90,694.90 L292.90,692.50 L293.30,689.60 L293.43,687.19 L293.80,684.80 L294.13,682.41 L294.30,680.00 L294.19,677.63 L295.10,675.37 L295.00,673.00 L295.40,670.39 L295.70,667.77 L295.36,665.11 L295.70,662.50 L296.50,664.00 L297.40,666.95 L297.90,670.00 L297.76,667.31 L298.02,664.65 L298.40,662.00 L298.67,659.20 L299.73,656.56 L300.20,653.80 L300.38,651.49 L300.97,649.23 L301.21,646.92 L301.30,644.60 L301.44,642.29 L301.55,639.98 L301.91,637.69 L301.93,635.37 L302.50,633.10 L302.80,630.41 L302.68,627.68 L303.10,625.00 L304.20,622.70 L306.00,622.70 L307.10,625.00 L308.30,627.30 L309.40,629.60 L310.20,633.10 L310.79,635.92 L310.90,638.80 L311.70,640.60 L313.50,641.20 L313.78,644.10 L314.60,646.90 L314.94,649.22 L314.89,651.59 L315.17,653.92 L315.80,656.20 L316.24,659.07 L316.90,661.90 L317.42,664.27 L317.84,666.66 L318.13,669.07 L318.30,671.50 L318.48,673.84 L318.97,676.14 L319.46,678.44 L319.99,680.73 L320.00,683.10 L320.44,685.38 L320.75,687.69 L321.32,689.96 L321.53,692.27 L321.70,694.60 L322.20,696.90 L322.48,699.23 L322.78,701.56 L323.09,703.89 L323.50,706.20 L323.84,708.56 L324.79,710.77 L325.50,713.03 L325.80,715.40 L327.08,718.25 L328.10,721.20 L330.40,723.10" fill="none" stroke="#3045ad" stroke-width="2.3" stroke-linejoin="round" stroke-linecap="round" opacity="1"/>
<path d="M257.50,723.10 L259.20,723.30 L261.10,722.30 L263.50,722.30 L265.00,721.30 L265.90,719.90 L267.90,719.40 L271.20,719.40 L272.70,718.50 L274.10,716.50 L275.60,714.60 L278.00,714.10 L279.90,712.70 L281.30,710.30 L282.80,708.80 L284.70,708.40 L285.70,705.00 L286.60,701.20 L288.10,697.30 L289.00,694.40 L290.50,693.90 L291.90,694.90 L292.90,692.50 L293.30,689.60 L293.43,687.19 L293.80,684.80 L294.13,682.41 L294.30,680.00 L294.19,677.63 L295.10,675.37 L295.00,673.00 L295.40,670.39 L295.70,667.77 L295.36,665.11 L295.70,662.50 L296.50,664.00 L297.40,666.95 L297.90,670.00 L297.76,667.31 L298.02,664.65 L298.40,662.00 L298.67,659.20 L299.73,656.56 L300.20,653.80 L300.38,651.49 L300.97,649.23 L301.21,646.92 L301.30,644.60 L301.44,642.29 L301.55,639.98 L301.91,637.69 L301.93,635.37 L302.50,633.10 L302.80,630.41 L302.68,627.68 L303.10,625.00 L304.20,622.70 L306.00,622.70 L307.10,625.00 L308.30,627.30 L309.40,629.60 L310.20,633.10 L310.79,635.92 L310.90,638.80 L311.70,640.60 L313.50,641.20 L313.78,644.10 L314.60,646.90 L314.94,649.22 L314.89,651.59 L315.17,653.92 L315.80,656.20 L316.24,659.07 L316.90,661.90 L317.42,664.27 L317.84,666.66 L318.13,669.07 L318.30,671.50 L318.48,673.84 L318.97,676.14 L319.46,678.44 L319.99,680.73 L320.00,683.10 L320.44,685.38 L320.75,687.69 L321.32,689.96 L321.53,692.27 L321.70,694.60 L322.20,696.90 L322.48,699.23 L322.78,701.56 L323.09,703.89 L323.50,706.20 L323.84,708.56 L324.79,710.77 L325.50,713.03 L325.80,715.40 L327.08,718.25 L328.10,721.20 L330.40,723.10" fill="none" stroke="#8e9ee0" stroke-width="0.55" stroke-linejoin="round" stroke-linecap="round" opacity="0.8"/>
<path d="M405.00,723.10 L407.80,719.00 L410.40,703.50 L412.10,681.00 L413.80,660.00 L415.20,643.30 L416.40,626.00 L417.70,610.40 L419.00,606.10 L420.40,610.40 L421.10,626.00 L422.20,643.30 L423.00,660.00 L423.90,681.00 L425.10,703.50 L427.70,719.00 L430.00,723.10" fill="none" stroke="#d4d4d4" stroke-width="1.1" stroke-linejoin="round" stroke-linecap="round" opacity="1"/>
<path d="M430.00,723.10 L432.90,722.80 L438.10,719.90 L442.40,713.80 L445.90,703.50 L448.50,689.60 L450.20,672.30 L451.30,662.00 L452.40,648.50 L454.00,631.20 L455.70,615.60 L457.10,607.80 L459.40,605.20 L461.40,607.80 L463.20,617.30 L464.90,634.60 L466.30,651.90 L467.00,662.00 L468.40,675.80 L470.10,694.80 L471.80,708.70 L474.40,717.30 L477.90,722.50 L480.00,723.10" fill="none" stroke="#6e6e6e" stroke-width="1.2" stroke-linejoin="round" stroke-linecap="round" opacity="1"/>
<path d="M412.00,723.10 L413.80,722.50 L415.60,720.80 L417.30,718.20 L419.00,715.60 L420.80,716.40 L422.50,713.80 L423.74,711.61 L425.10,709.50 L426.16,712.03 L426.80,714.70 L427.85,717.43 L429.40,719.90 L431.20,719.00 L432.13,716.43 L432.90,713.80 L433.77,711.26 L434.60,708.70 L435.58,706.55 L436.30,704.30 L436.85,701.73 L437.03,699.11 L437.20,696.50 L437.35,693.86 L438.34,691.35 L438.40,688.70 L439.80,692.20 L440.20,694.62 L440.32,697.05 L440.20,699.50 L440.32,697.04 L440.84,694.64 L441.37,692.24 L441.60,689.80 L441.57,687.18 L441.81,684.58 L442.24,682.00 L442.73,679.42 L442.70,676.80 L442.67,674.07 L443.53,671.43 L443.35,668.68 L443.80,666.00 L444.46,663.77 L444.41,661.42 L445.29,659.23 L445.40,656.90 L446.50,658.50 L448.10,662.30 L449.52,659.42 L450.30,656.30 L450.86,653.86 L450.86,651.37 L451.30,648.91 L451.41,646.43 L451.11,643.91 L451.67,641.47 L451.90,639.00 L452.70,638.00 L453.50,642.30 L453.77,644.81 L453.95,647.33 L454.05,649.85 L454.24,652.37 L454.50,654.88 L454.60,657.40 L455.13,659.95 L455.20,662.54 L455.56,665.11 L455.70,667.70 L456.18,665.36 L455.83,662.93 L456.40,660.60 L456.26,658.16 L456.66,655.75 L456.45,653.31 L456.70,650.89 L457.11,648.48 L457.41,646.07 L457.09,643.62 L457.30,641.20 L457.24,638.74 L457.83,636.35 L458.03,633.91 L458.40,631.50 L459.20,633.60 L459.48,636.19 L459.43,638.81 L459.76,641.40 L459.95,643.99 L460.00,646.60 L460.14,649.31 L460.54,652.00 L460.78,654.71 L461.10,657.40 L461.71,660.63 L462.10,663.90 L463.50,667.10 L464.07,670.35 L464.60,673.60 L464.78,676.48 L464.81,679.36 L465.40,682.20 L465.36,684.75 L465.44,687.29 L465.90,689.80 L466.49,692.03 L467.50,694.10 L468.37,697.30 L468.60,700.60 L469.26,703.44 L469.84,706.30 L470.20,709.20 L470.60,711.73 L470.75,714.29 L471.30,716.80 L472.40,720.00 L474.60,720.00 L476.20,722.70 L477.00,723.10" fill="none" stroke="#3045ad" stroke-width="2.3" stroke-linejoin="round" stroke-linecap="round" opacity="1"/>
<path d="M412.00,723.10 L413.80,722.50 L415.60,720.80 L417.30,718.20 L419.00,715.60 L420.80,716.40 L422.50,713.80 L423.74,711.61 L425.10,709.50 L426.16,712.03 L426.80,714.70 L427.85,717.43 L429.40,719.90 L431.20,719.00 L432.13,716.43 L432.90,713.80 L433.77,711.26 L434.60,708.70 L435.58,706.55 L436.30,704.30 L436.85,701.73 L437.03,699.11 L437.20,696.50 L437.35,693.86 L438.34,691.35 L438.40,688.70 L439.80,692.20 L440.20,694.62 L440.32,697.05 L440.20,699.50 L440.32,697.04 L440.84,694.64 L441.37,692.24 L441.60,689.80 L441.57,687.18 L441.81,684.58 L442.24,682.00 L442.73,679.42 L442.70,676.80 L442.67,674.07 L443.53,671.43 L443.35,668.68 L443.80,666.00 L444.46,663.77 L444.41,661.42 L445.29,659.23 L445.40,656.90 L446.50,658.50 L448.10,662.30 L449.52,659.42 L450.30,656.30 L450.86,653.86 L450.86,651.37 L451.30,648.91 L451.41,646.43 L451.11,643.91 L451.67,641.47 L451.90,639.00 L452.70,638.00 L453.50,642.30 L453.77,644.81 L453.95,647.33 L454.05,649.85 L454.24,652.37 L454.50,654.88 L454.60,657.40 L455.13,659.95 L455.20,662.54 L455.56,665.11 L455.70,667.70 L456.18,665.36 L455.83,662.93 L456.40,660.60 L456.26,658.16 L456.66,655.75 L456.45,653.31 L456.70,650.89 L457.11,648.48 L457.41,646.07 L457.09,643.62 L457.30,641.20 L457.24,638.74 L457.83,636.35 L458.03,633.91 L458.40,631.50 L459.20,633.60 L459.48,636.19 L459.43,638.81 L459.76,641.40 L459.95,643.99 L460.00,646.60 L460.14,649.31 L460.54,652.00 L460.78,654.71 L461.10,657.40 L461.71,660.63 L462.10,663.90 L463.50,667.10 L464.07,670.35 L464.60,673.60 L464.78,676.48 L464.81,679.36 L465.40,682.20 L465.36,684.75 L465.44,687.29 L465.90,689.80 L466.49,692.03 L467.50,694.10 L468.37,697.30 L468.60,700.60 L469.26,703.44 L469.84,706.30 L470.20,709.20 L470.60,711.73 L470.75,714.29 L471.30,716.80 L472.40,720.00 L474.60,720.00 L476.20,722.70 L477.00,723.10" fill="none" stroke="#8e9ee0" stroke-width="0.55" stroke-linejoin="round" stroke-linecap="round" opacity="0.8"/>
<path d="M138.00,897.80 L140.40,896.20 L144.00,885.00 L147.40,868.20 L149.60,847.00 L151.70,826.00 L153.60,808.00 L155.20,791.00 L157.00,781.90 L158.70,798.00 L159.80,815.00 L160.80,833.10 L162.30,855.00 L164.30,875.20 L166.50,890.00 L168.50,896.20 L171.00,897.80" fill="none" stroke="#d4d4d4" stroke-width="1.1" stroke-linejoin="round" stroke-linecap="round" opacity="1"/>
<path d="M140.50,897.80 L141.80,896.20 L143.50,890.00 L145.30,882.20 L147.40,868.20 L149.10,854.20 L150.20,840.10 L151.70,826.10 L153.00,812.00 L155.20,798.00 L157.00,785.40 L158.60,797.00 L160.10,812.00 L162.20,825.00 L164.30,837.30 L167.00,849.00 L169.90,861.20 L172.80,873.00 L175.50,885.00 L178.50,893.00 L181.10,897.00 L183.00,897.80" fill="none" stroke="#6e6e6e" stroke-width="1.2" stroke-linejoin="round" stroke-linecap="round" opacity="1"/>
<path d="M136.50,897.80 L137.60,897.00 L138.78,894.75 L139.45,892.30 L140.50,890.00 L141.56,887.46 L142.56,884.89 L143.20,882.20 L143.42,879.73 L144.02,877.31 L144.09,874.82 L144.31,872.34 L144.75,869.90 L145.32,867.48 L145.50,865.00 L145.53,862.74 L146.07,860.54 L146.12,858.28 L146.25,856.03 L146.65,853.81 L146.86,851.57 L147.14,849.33 L147.40,847.10 L147.91,844.91 L148.21,842.69 L148.08,840.42 L148.81,838.26 L148.80,836.00 L149.22,833.53 L149.77,831.09 L150.04,828.60 L150.20,826.10 L150.57,823.83 L150.75,821.53 L151.50,819.31 L151.60,817.00 L152.36,814.73 L152.61,812.35 L153.00,810.00 L155.20,813.50 L156.31,815.51 L157.00,817.70 L158.70,814.90 L159.21,817.29 L159.95,819.61 L160.80,821.90 L162.50,823.00 L163.60,826.10 L163.67,828.60 L163.92,831.08 L164.22,833.56 L164.80,836.00 L164.96,838.78 L165.46,841.53 L165.70,844.30 L166.62,846.67 L167.56,849.03 L168.50,851.40 L168.85,854.29 L169.43,857.15 L170.00,860.00 L170.24,862.76 L170.86,865.47 L171.30,868.20 L171.67,870.91 L171.88,873.64 L172.40,876.33 L173.00,879.00 L173.20,881.59 L173.78,884.12 L174.57,886.61 L174.80,889.20 L175.70,891.84 L176.50,894.50 L178.30,897.00 L179.50,897.80" fill="none" stroke="#3045ad" stroke-width="2.3" stroke-linejoin="round" stroke-linecap="round" opacity="1"/>
<path d="M136.50,897.80 L137.60,897.00 L138.78,894.75 L139.45,892.30 L140.50,890.00 L141.56,887.46 L142.56,884.89 L143.20,882.20 L143.42,879.73 L144.02,877.31 L144.09,874.82 L144.31,872.34 L144.75,869.90 L145.32,867.48 L145.50,865.00 L145.53,862.74 L146.07,860.54 L146.12,858.28 L146.25,856.03 L146.65,853.81 L146.86,851.57 L147.14,849.33 L147.40,847.10 L147.91,844.91 L148.21,842.69 L148.08,840.42 L148.81,838.26 L148.80,836.00 L149.22,833.53 L149.77,831.09 L150.04,828.60 L150.20,826.10 L150.57,823.83 L150.75,821.53 L151.50,819.31 L151.60,817.00 L152.36,814.73 L152.61,812.35 L153.00,810.00 L155.20,813.50 L156.31,815.51 L157.00,817.70 L158.70,814.90 L159.21,817.29 L159.95,819.61 L160.80,821.90 L162.50,823.00 L163.60,826.10 L163.67,828.60 L163.92,831.08 L164.22,833.56 L164.80,836.00 L164.96,838.78 L165.46,841.53 L165.70,844.30 L166.62,846.67 L167.56,849.03 L168.50,851.40 L168.85,854.29 L169.43,857.15 L170.00,860.00 L170.24,862.76 L170.86,865.47 L171.30,868.20 L171.67,870.91 L171.88,873.64 L172.40,876.33 L173.00,879.00 L173.20,881.59 L173.78,884.12 L174.57,886.61 L174.80,889.20 L175.70,891.84 L176.50,894.50 L178.30,897.00 L179.50,897.80" fill="none" stroke="#8e9ee0" stroke-width="0.55" stroke-linejoin="round" stroke-linecap="round" opacity="0.8"/>
<path d="M288.00,897.80 L290.60,895.60 L293.00,890.00 L295.50,870.00 L297.00,850.00 L298.50,830.00 L299.90,812.40 L300.70,798.90 L301.20,785.50 L302.70,781.40 L304.30,785.50 L305.30,798.90 L306.10,812.40 L307.00,830.00 L307.50,850.00 L309.00,870.00 L311.00,890.00 L313.00,896.50 L315.00,897.80" fill="none" stroke="#d4d4d4" stroke-width="1.1" stroke-linejoin="round" stroke-linecap="round" opacity="1"/>
<path d="M287.00,897.80 L288.80,897.50 L294.20,894.60 L298.30,886.50 L301.00,873.10 L303.00,856.90 L304.30,843.50 L305.70,832.60 L307.00,819.10 L308.40,805.60 L309.70,793.50 L311.00,785.50 L313.30,780.70 L315.10,785.50 L316.40,794.90 L317.80,809.70 L319.10,825.80 L319.80,843.50 L321.10,856.90 L322.50,870.40 L323.80,883.80 L326.50,894.60 L329.20,897.60 L331.00,897.80" fill="none" stroke="#6e6e6e" stroke-width="1.2" stroke-linejoin="round" stroke-linecap="round" opacity="1"/>
<path d="M277.00,897.80 L279.40,897.30 L281.46,895.31 L283.50,893.30 L284.91,891.29 L286.20,889.20 L287.06,887.10 L288.51,885.30 L289.36,883.21 L290.20,881.10 L290.91,878.46 L291.17,875.74 L291.96,873.12 L292.20,870.40 L292.62,868.17 L292.74,865.91 L292.59,863.62 L293.09,861.40 L293.74,859.19 L293.60,856.90 L293.75,854.67 L293.70,852.43 L294.00,850.20 L293.71,847.95 L293.96,845.73 L294.20,843.50 L294.52,840.77 L294.38,838.03 L294.50,835.30 L294.81,832.59 L295.30,829.90 L295.22,832.64 L295.88,835.30 L296.20,838.00 L297.60,833.90 L298.90,829.90 L299.60,825.80 L300.70,823.10 L300.96,820.86 L300.97,818.59 L301.60,816.40 L303.00,812.40 L304.70,811.00 L305.08,808.31 L305.30,805.60 L305.70,802.95 L306.10,800.30 L305.83,797.16 L305.90,794.00 L306.15,791.39 L305.70,788.80 L306.05,791.86 L306.60,794.90 L307.00,798.90 L307.25,801.32 L307.27,803.77 L307.92,806.15 L307.74,808.62 L308.40,811.00 L308.70,813.72 L309.30,816.40 L309.66,818.62 L309.87,820.86 L310.10,823.10 L310.18,825.86 L311.00,828.50 L312.40,831.20 L313.30,828.50 L313.61,831.21 L314.10,833.90 L314.45,836.13 L313.74,838.33 L314.05,840.56 L314.10,842.78 L313.90,845.00 L313.87,847.38 L314.06,849.76 L313.65,852.14 L313.64,854.52 L313.70,856.90 L314.43,859.12 L315.11,861.36 L315.80,863.60 L316.36,865.84 L316.52,868.16 L317.10,870.40 L317.34,872.81 L318.45,875.03 L318.50,877.47 L319.10,879.80 L319.53,882.10 L320.06,884.38 L321.10,886.50 L321.94,889.28 L323.20,891.90 L323.88,894.06 L325.20,895.90 L326.50,897.80" fill="none" stroke="#3045ad" stroke-width="2.3" stroke-linejoin="round" stroke-linecap="round" opacity="1"/>
<path d="M277.00,897.80 L279.40,897.30 L281.46,895.31 L283.50,893.30 L284.91,891.29 L286.20,889.20 L287.06,887.10 L288.51,885.30 L289.36,883.21 L290.20,881.10 L290.91,878.46 L291.17,875.74 L291.96,873.12 L292.20,870.40 L292.62,868.17 L292.74,865.91 L292.59,863.62 L293.09,861.40 L293.74,859.19 L293.60,856.90 L293.75,854.67 L293.70,852.43 L294.00,850.20 L293.71,847.95 L293.96,845.73 L294.20,843.50 L294.52,840.77 L294.38,838.03 L294.50,835.30 L294.81,832.59 L295.30,829.90 L295.22,832.64 L295.88,835.30 L296.20,838.00 L297.60,833.90 L298.90,829.90 L299.60,825.80 L300.70,823.10 L300.96,820.86 L300.97,818.59 L301.60,816.40 L303.00,812.40 L304.70,811.00 L305.08,808.31 L305.30,805.60 L305.70,802.95 L306.10,800.30 L305.83,797.16 L305.90,794.00 L306.15,791.39 L305.70,788.80 L306.05,791.86 L306.60,794.90 L307.00,798.90 L307.25,801.32 L307.27,803.77 L307.92,806.15 L307.74,808.62 L308.40,811.00 L308.70,813.72 L309.30,816.40 L309.66,818.62 L309.87,820.86 L310.10,823.10 L310.18,825.86 L311.00,828.50 L312.40,831.20 L313.30,828.50 L313.61,831.21 L314.10,833.90 L314.45,836.13 L313.74,838.33 L314.05,840.56 L314.10,842.78 L313.90,845.00 L313.87,847.38 L314.06,849.76 L313.65,852.14 L313.64,854.52 L313.70,856.90 L314.43,859.12 L315.11,861.36 L315.80,863.60 L316.36,865.84 L316.52,868.16 L317.10,870.40 L317.34,872.81 L318.45,875.03 L318.50,877.47 L319.10,879.80 L319.53,882.10 L320.06,884.38 L321.10,886.50 L321.94,889.28 L323.20,891.90 L323.88,894.06 L325.20,895.90 L326.50,897.80" fill="none" stroke="#8e9ee0" stroke-width="0.55" stroke-linejoin="round" stroke-linecap="round" opacity="0.8"/>
<path d="M435.00,897.80 L437.00,897.50 L439.50,894.00 L441.20,884.00 L442.50,870.00 L443.30,856.00 L444.00,842.00 L444.90,823.10 L445.80,805.60 L446.90,788.20 L448.30,782.80 L449.60,788.20 L450.70,805.60 L451.60,823.10 L452.80,842.00 L454.60,860.00 L456.50,877.00 L458.50,889.00 L460.50,895.60 L462.50,897.80" fill="none" stroke="#d4d4d4" stroke-width="1.1" stroke-linejoin="round" stroke-linecap="round" opacity="1"/>
<path d="M439.00,897.80 L441.00,897.30 L443.60,894.60 L447.00,883.80 L449.00,870.40 L451.00,856.90 L452.40,843.50 L453.40,823.10 L454.30,809.70 L455.70,794.90 L457.00,784.10 L458.80,780.10 L460.40,784.10 L462.00,794.90 L463.30,809.70 L464.70,823.10 L465.20,830.00 L466.50,843.50 L467.90,856.90 L469.20,870.40 L471.20,883.80 L473.90,893.30 L476.00,897.30 L478.00,897.80" fill="none" stroke="#6e6e6e" stroke-width="1.2" stroke-linejoin="round" stroke-linecap="round" opacity="1"/>
<path d="M424.00,898.10 L427.50,897.80 L429.50,897.30 L430.90,895.30 L432.90,895.90 L434.90,894.60 L435.53,891.76 L436.90,889.20 L437.59,887.00 L438.00,884.74 L438.50,882.50 L439.41,879.87 L440.04,877.18 L440.30,874.40 L440.86,871.72 L441.36,869.03 L441.60,866.30 L443.00,863.60 L444.03,861.62 L445.00,859.60 L445.45,856.90 L446.17,854.25 L446.30,851.50 L446.86,848.85 L446.88,846.13 L447.68,843.52 L447.70,840.80 L447.72,838.37 L448.30,836.00 L449.20,833.67 L449.60,831.20 L451.00,829.90 L452.30,825.80 L453.00,823.80 L453.60,820.50 L454.30,823.10 L454.49,825.42 L455.41,827.60 L455.70,829.90 L456.60,828.50 L457.41,831.20 L457.80,834.00 L458.80,831.20 L459.02,833.66 L458.93,836.12 L459.13,838.58 L459.43,841.03 L459.10,843.50 L459.81,846.12 L459.74,848.88 L460.50,851.50 L461.47,854.21 L462.50,856.90 L463.08,859.57 L463.28,862.27 L463.20,865.00 L463.83,867.67 L463.71,870.46 L464.50,873.10 L464.79,875.45 L466.22,877.45 L466.50,879.80 L468.50,882.50 L469.58,884.48 L470.60,886.50 L471.39,889.28 L472.60,891.90 L474.27,894.44 L475.30,897.30 L476.00,897.80" fill="none" stroke="#3045ad" stroke-width="2.3" stroke-linejoin="round" stroke-linecap="round" opacity="1"/>
<path d="M424.00,898.10 L427.50,897.80 L429.50,897.30 L430.90,895.30 L432.90,895.90 L434.90,894.60 L435.53,891.76 L436.90,889.20 L437.59,887.00 L438.00,884.74 L438.50,882.50 L439.41,879.87 L440.04,877.18 L440.30,874.40 L440.86,871.72 L441.36,869.03 L441.60,866.30 L443.00,863.60 L444.03,861.62 L445.00,859.60 L445.45,856.90 L446.17,854.25 L446.30,851.50 L446.86,848.85 L446.88,846.13 L447.68,843.52 L447.70,840.80 L447.72,838.37 L448.30,836.00 L449.20,833.67 L449.60,831.20 L451.00,829.90 L452.30,825.80 L453.00,823.80 L453.60,820.50 L454.30,823.10 L454.49,825.42 L455.41,827.60 L455.70,829.90 L456.60,828.50 L457.41,831.20 L457.80,834.00 L458.80,831.20 L459.02,833.66 L458.93,836.12 L459.13,838.58 L459.43,841.03 L459.10,843.50 L459.81,846.12 L459.74,848.88 L460.50,851.50 L461.47,854.21 L462.50,856.90 L463.08,859.57 L463.28,862.27 L463.20,865.00 L463.83,867.67 L463.71,870.46 L464.50,873.10 L464.79,875.45 L466.22,877.45 L466.50,879.80 L468.50,882.50 L469.58,884.48 L470.60,886.50 L471.39,889.28 L472.60,891.90 L474.27,894.44 L475.30,897.30 L476.00,897.80" fill="none" stroke="#8e9ee0" stroke-width="0.55" stroke-linejoin="round" stroke-linecap="round" opacity="0.8"/>
</svg>
</body></html>
